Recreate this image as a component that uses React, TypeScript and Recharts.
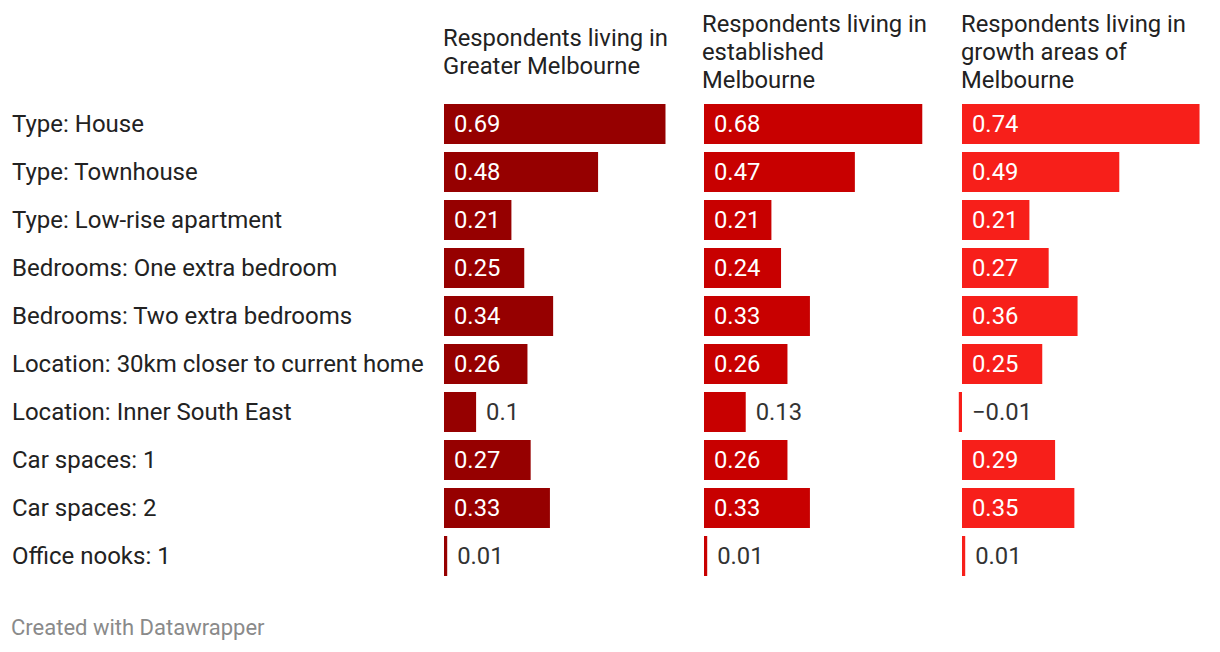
import React from "react";
import { BarChart, Bar, XAxis, YAxis, LabelList } from "recharts";

const categories = [
  "Type: House",
  "Type: Townhouse",
  "Type: Low-rise apartment",
  "Bedrooms: One extra bedroom",
  "Bedrooms: Two extra bedrooms",
  "Location: 30km closer to current home",
  "Location: Inner South East",
  "Car spaces: 1",
  "Car spaces: 2",
  "Office nooks: 1",
];

const greaterMelbourne = [0.69, 0.48, 0.21, 0.25, 0.34, 0.26, 0.1, 0.27, 0.33, 0.01];
const establishedMelbourne = [0.68, 0.47, 0.21, 0.24, 0.33, 0.26, 0.13, 0.26, 0.33, 0.01];
const growthAreas = [0.74, 0.49, 0.21, 0.27, 0.36, 0.25, -0.01, 0.29, 0.35, 0.01];

const headers = [
  "Respondents living in Greater Melbourne",
  "Respondents living in established Melbourne",
  "Respondents living in growth areas of Melbourne",
];

const FONT = "Roboto, sans-serif";
const FS = 23.8;
const PX_PER_UNIT = 321;
const PLOT_W = 260;
const DOMAIN: [number, number] = [-10 / PX_PER_UNIT, (PLOT_W - 10) / PX_PER_UNIT];

const fmt = (v: number) => String(v).replace("-", "\u2212");

const ValueLabel = (props: any) => {
  const { x, y, width, height, value } = props;
  const left = Math.min(x, x + width);
  const right = Math.max(x, x + width);
  const inside = value >= 0.15;
  return (
    <text
      x={inside ? left + 10 : right + 10}
      y={y + height / 2}
      dy="0.35em"
      fill={inside ? "#ffffff" : "#333333"}
      fontSize={FS}
      fontFamily={FONT}
    >
      {fmt(value)}
    </text>
  );
};

const CategoryTick = (props: any) => {
  const { y, payload } = props;
  return (
    <text x={12} y={y} dy="0.35em" fill="#222222" fontSize={24} fontFamily={FONT} textAnchor="start">
      {payload.value}
    </text>
  );
};

function Column({ values, color, left, withLabels }: { values: number[]; color: string; left: number; withLabels?: boolean }) {
  const data = categories.map((c, i) => ({ label: c, value: values[i] }));
  const axisW = withLabels ? 434 : 0;
  return (
    <div style={{ position: "absolute", left, top: 100 }}>
      <BarChart
        width={axisW + PLOT_W}
        height={480}
        data={data}
        layout="vertical"
        margin={{ top: 0, right: 0, bottom: 0, left: 0 }}
        barCategoryGap={0}
      >
        <XAxis type="number" domain={DOMAIN} hide allowDataOverflow />
        <YAxis
          type="category"
          dataKey="label"
          width={axisW}
          hide={!withLabels}
          axisLine={false}
          tickLine={false}
          tick={<CategoryTick />}
          interval={0}
        />
        <Bar dataKey="value" fill={color} barSize={40} isAnimationActive={false}>
          <LabelList dataKey="value" content={<ValueLabel />} />
        </Bar>
      </BarChart>
    </div>
  );
}

export default function App() {
  const headerLefts = [443, 702, 961];
  return (
    <div style={{ position: "absolute", left: 0, top: 0, width: 1220, height: 652, background: "#fff", fontFamily: FONT }}>
      {headers.map((h, i) => (
        <div
          key={h}
          style={{
            position: "absolute",
            left: headerLefts[i],
            top: 10,
            height: 84,
            width: 234,
            display: "flex",
            alignItems: "center",
            fontSize: FS,
            lineHeight: "28px",
            color: "#222",
          }}
        >
          <div>{h}</div>
        </div>
      ))}
      <Column values={greaterMelbourne} color="#960000" left={0} withLabels />
      <Column values={establishedMelbourne} color="#c80000" left={694} />
      <Column values={growthAreas} color="#f71f1a" left={952} />
      <div style={{ position: "absolute", left: 11, top: 615, fontSize: 22, color: "#8a8a8a" }}>
        Created with Datawrapper
      </div>
    </div>
  );
}
